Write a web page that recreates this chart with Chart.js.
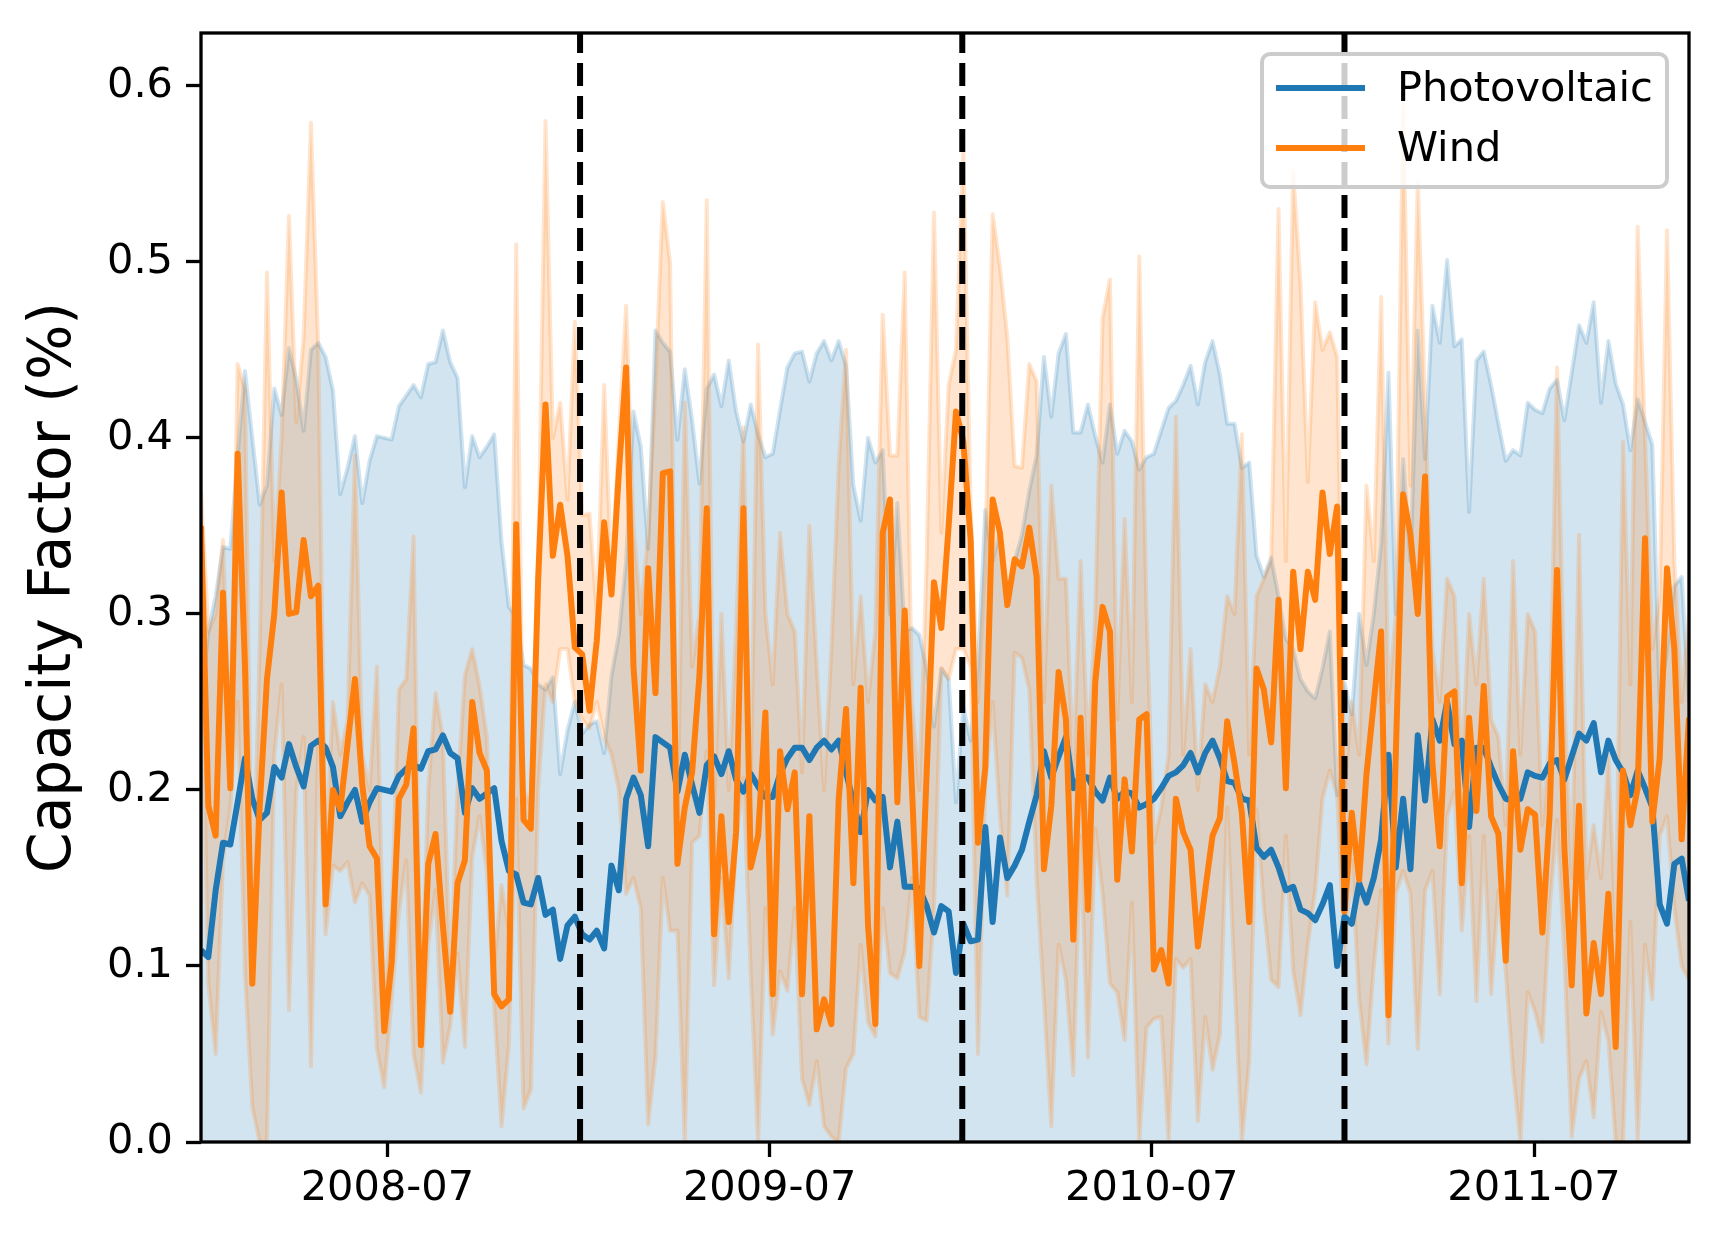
<!DOCTYPE html>
<html>
<head>
<meta charset="utf-8">
<script src="https://cdn.jsdelivr.net/npm/chart.js@4.4.0/dist/chart.umd.min.js"></script>
<style>
  html, body { margin: 0; padding: 0; background: #fff; }
  #wrap { width: 1722px; height: 1241px; }
  canvas { display: block; }
</style>
</head>
<body>
<div id="wrap"><canvas id="cfChart" width="1722" height="1241"></canvas></div>
<script>
// ── WEEKLY CAPACITY FACTOR: PV vs WIND ──
// mean lines plus min/max bands, one point per week

const START_DATE = '2008-01-05';          // first weekly sample
const X_TICKS    = ['2008-07', '2009-07', '2010-07', '2011-07'];
const YEAR_MARKS = ['2009-01-01', '2010-01-01', '2011-01-01'];
const Y_TICKS    = [0, 0.1, 0.2, 0.3, 0.4, 0.5, 0.6];

const pvMean = [
  .109,.105,.143,.170,.169,.193,.218,.195,.183,.187, .213,.207,.226,.213,.202,.225,.228,.224,.213,.185,
  .193,.200,.182,.193,.201,.200,.199,.208,.212,.214, .212,.222,.223,.231,.221,.218,.187,.201,.195,.198,
  .201,.171,.154,.152,.136,.135,.150,.129,.132,.104, .123,.128,.118,.115,.120,.110,.157,.143,.195,.207,
  .197,.168,.230,.227,.224,.199,.220,.203,.187,.214, .219,.209,.222,.206,.199,.209,.202,.196,.196,.209,
  .218,.224,.224,.217,.224,.228,.223,.228,.210,.193, .176,.200,.194,.196,.156,.182,.145,.145,.144,.134,
  .119,.134,.131,.096,.124,.114,.115,.179,.125,.173, .150,.157,.166,.182,.197,.222,.207,.219,.230,.201,
  .208,.207,.199,.194,.207,.195,.199,.198,.190,.192, .195,.201,.208,.210,.214,.221,.210,.221,.228,.218,
  .205,.204,.195,.194,.167,.162,.166,.156,.143,.145, .132,.130,.126,.135,.146,.100,.128,.124,.147,.136,
  .150,.172,.220,.156,.195,.155,.231,.194,.240,.228, .250,.226,.228,.179,.224,.224,.213,.203,.195,.194,
  .195,.210,.208,.207,.215,.217,.206,.219,.232,.228, .238,.210,.228,.217,.210,.197,.211,.201,.190,.135,
  .124,.158,.161,.137
];

const pvMax = [
  .250,.290,.310,.338,.337,.390,.438,.400,.362,.373, .428,.413,.451,.433,.404,.450,.454,.446,.427,.368,
  .383,.401,.363,.387,.401,.400,.399,.418,.424,.430, .423,.442,.443,.461,.443,.434,.372,.401,.389,.395,
  .402,.341,.304,.298,.271,.269,.260,.257,.264,.209, .234,.250,.232,.237,.239,.221,.265,.288,.330,.415,
  .395,.337,.461,.454,.449,.399,.439,.410,.374,.428, .436,.418,.444,.415,.398,.419,.402,.389,.391,.416,
  .440,.448,.449,.432,.448,.455,.444,.455,.441,.373, .353,.400,.386,.393,.300,.363,.290,.292,.288,.269,
  .236,.269,.263,.193,.247,.228,.270,.359,.330,.347, .309,.330,.345,.370,.390,.446,.412,.448,.459,.403,
  .403,.419,.401,.386,.419,.391,.404,.398,.382,.389, .391,.404,.417,.421,.430,.441,.419,.443,.455,.436,
  .408,.408,.383,.386,.333,.321,.332,.310,.286,.280, .263,.256,.252,.269,.290,.197,.261,.243,.300,.271,
  .300,.340,.437,.300,.388,.330,.461,.388,.475,.454, .501,.452,.456,.358,.444,.449,.430,.408,.387,.393,
  .390,.420,.416,.414,.428,.433,.410,.437,.464,.454, .477,.420,.455,.431,.419,.393,.422,.409,.396,.250,
  .280,.316,.321,.250
];

const windMean = [
  .350,.191,.174,.312,.201,.391,.270,.090,.190,.263, .300,.369,.300,.301,.342,.310,.316,.135,.200,.189,
  .226,.263,.203,.168,.161,.063,.102,.195,.203,.235, .055,.158,.175,.123,.074,.147,.160,.250,.221,.211,
  .084,.077,.081,.351,.183,.178,.320,.419,.333,.362, .333,.281,.277,.245,.285,.352,.311,.380,.440,.270,
  .211,.326,.255,.380,.381,.158,.190,.210,.265,.360, .118,.185,.125,.176,.360,.156,.174,.244,.084,.222,
  .189,.210,.084,.185,.064,.081,.067,.195,.246,.147, .258,.123,.067,.346,.365,.193,.302,.200,.100,.210,
  .318,.292,.350,.415,.398,.342,.170,.213,.365,.346, .305,.331,.327,.349,.321,.155,.191,.267,.240,.115,
  .241,.132,.261,.304,.290,.149,.206,.165,.240,.243, .098,.109,.090,.195,.176,.166,.111,.143,.174,.184,
  .239,.215,.187,.125,.269,.257,.227,.308,.201,.324, .280,.324,.308,.369,.334,.361,.131,.187,.149,.209,
  .250,.290,.072,.220,.368,.345,.300,.378,.215,.168, .253,.256,.147,.241,.188,.259,.185,.175,.103,.222,
  .166,.189,.186,.119,.187,.325,.167,.089,.191,.073, .113,.084,.141,.054,.211,.180,.201,.343,.182,.218,
  .326,.280,.172,.241
];

const windMax = [
  .370,.290,.300,.342,.220,.442,.427,.120,.280,.494, .330,.400,.526,.409,.457,.579,.450,.160,.250,.220,
  .240,.390,.220,.200,.270,.080,.130,.257,.263,.344, .070,.200,.255,.230,.090,.200,.265,.280,.259,.230,
  .100,.146,.120,.510,.200,.190,.330,.580,.400,.420, .365,.466,.356,.357,.300,.430,.320,.400,.475,.350,
  .300,.345,.430,.534,.499,.180,.420,.270,.300,.535, .190,.300,.200,.290,.406,.200,.453,.300,.260,.346,
  .300,.290,.210,.350,.270,.200,.280,.384,.450,.260, .310,.250,.290,.470,.390,.390,.494,.250,.200,.330,
  .528,.346,.430,.450,.563,.360,.250,.330,.527,.497, .457,.384,.383,.442,.432,.250,.373,.320,.320,.210,
  .330,.220,.300,.468,.490,.240,.354,.250,.503,.300, .170,.190,.220,.412,.220,.280,.200,.260,.250,.270,
  .310,.300,.402,.220,.310,.320,.330,.530,.330,.551, .487,.375,.477,.450,.460,.446,.200,.250,.220,.373,
  .330,.480,.250,.300,.590,.373,.545,.420,.280,.250, .320,.310,.210,.300,.260,.320,.240,.230,.180,.330,
  .220,.300,.290,.180,.230,.440,.250,.150,.345,.150, .180,.150,.220,.120,.398,.260,.520,.400,.280,.310,
  .518,.330,.250,.300
];

const windMin = [
  .300,.090,.050,.160,.190,.250,.096,.020,.000,.000, .220,.260,.075,.200,.230,.043,.228,.118,.157,.154,
  .159,.136,.147,.140,.053,.031,.080,.130,.160,.050, .028,.112,.143,.045,.066,.107,.054,.162,.185,.154,
  .077,.009,.055,.195,.019,.030,.200,.260,.250,.280, .280,.250,.240,.235,.250,.230,.220,.200,.141,.150,
  .133,.010,.048,.150,.120,.120,.000,.170,.174,.222, .089,.150,.093,.170,.207,.096,.000,.133,.061,.097,
  .086,.133,.036,.021,.046,.009,.003,.000,.042,.050, .112,.068,.060,.133,.096,.093,.108,.150,.071,.069,
  .133,.269,.263,.280,.280,.270,.050,.203,.250,.185, .140,.278,.275,.257,.150,.081,.009,.112,.092,.038,
  .174,.048,.178,.141,.090,.085,.058,.136,.000,.065, .070,.071,.000,.104,.099,.104,.012,.071,.041,.061,
  .190,.092,.000,.046,.189,.133,.092,.088,.174,.097, .072,.112,.143,.195,.211,.197,.106,.160,.081,.044,
  .100,.143,.056,.141,.154,.141,.053,.143,.154,.084, .185,.199,.120,.174,.080,.174,.084,.143,.097,.040,
  .000,.085,.074,.057,.133,.183,.106,.003,.036,.046, .014,.074,.057,.000,.000,.125,.000,.112,.081,.174,
  .185,.133,.100,.092
];

const BLUE   = '#1f77b4';
const ORANGE = '#ff7f0e';
const BLUE_BAND   = 'rgba(31,119,180,0.2)';
const ORANGE_BAND = 'rgba(255,127,14,0.2)';
const FONT = "'DejaVu Sans', 'Liberation Sans', sans-serif";
const TICK_PX = 41.5;

function parseDay(s) {
  const p = s.split('-').map(Number);
  return Date.UTC(p[0], p[1] - 1, p[2] || 1);
}
function fmtMonth(ms) {
  const d = new Date(ms);
  return d.getUTCFullYear() + '-' + String(d.getUTCMonth() + 1).padStart(2, '0');
}

const WEEK_MS = 7 * 864e5;
const t0 = parseDay(START_DATE);
const weeks = pvMean.map((_, i) => t0 + i * WEEK_MS);
const xy = arr => arr.map((v, i) => ({ x: weeks[i], y: v }));

// dashed year separators + axis frame
const yearLines = {
  id: 'yearLines',
  afterDatasetsDraw(chart) {
    const { ctx, chartArea: a, scales: { x } } = chart;
    ctx.save();
    ctx.strokeStyle = '#000';
    ctx.lineWidth = 6;
    ctx.setLineDash([23, 10]);
    YEAR_MARKS.forEach(d => {
      const px = x.getPixelForValue(parseDay(d));
      ctx.beginPath();
      ctx.moveTo(px, a.bottom);
      ctx.lineTo(px, a.top);
      ctx.stroke();
    });
    ctx.setLineDash([]);
    ctx.lineWidth = 3.3;
    ctx.strokeRect(a.left, a.top, a.right - a.left, a.bottom - a.top);
    ctx.restore();
  }
};

// matplotlib-style legend box inside the axes, upper right
const legendBox = {
  id: 'legendBox',
  afterDraw(chart) {
    const { ctx, chartArea: a } = chart;
    const w = 405, h = 133;
    const x0 = a.right - 22 - w, y0 = a.top + 21;
    ctx.save();
    ctx.beginPath();
    ctx.roundRect(x0, y0, w, h, 8);
    ctx.fillStyle = 'rgba(255,255,255,0.8)';
    ctx.fill();
    ctx.lineWidth = 4;
    ctx.strokeStyle = '#cccccc';
    ctx.stroke();
    const items = [['Photovoltaic', BLUE], ['Wind', ORANGE]];
    ctx.font = TICK_PX + 'px ' + FONT;
    ctx.textBaseline = 'middle';
    ctx.fillStyle = '#000';
    items.forEach(([label, col], k) => {
      const yy = y0 + 34 + k * 60;
      ctx.beginPath();
      ctx.moveTo(x0 + 14, yy);
      ctx.lineTo(x0 + 103, yy);
      ctx.strokeStyle = col;
      ctx.lineWidth = 6;
      ctx.stroke();
      ctx.fillText(label, x0 + 135, yy + 2);
    });
    ctx.restore();
  }
};

const line = (data, color, width, extra) => Object.assign({
  data, borderColor: color, borderWidth: width, pointRadius: 0,
  tension: 0, fill: false, borderJoinStyle: 'round'
}, extra || {});

new Chart(document.getElementById('cfChart'), {
  type: 'line',
  data: {
    datasets: [
      line(xy(windMean), ORANGE, 6),
      line(xy(pvMean), BLUE, 6),
      line(xy(windMax), ORANGE_BAND, 4, { fill: '+1', backgroundColor: ORANGE_BAND }),
      line(xy(windMin), ORANGE_BAND, 4),
      line(xy(pvMax), BLUE_BAND, 4, { fill: 'origin', backgroundColor: BLUE_BAND })
    ]
  },
  options: {
    responsive: false,
    devicePixelRatio: 1,
    animation: false,
    layout: { padding: { left: 0, top: 33, right: 33, bottom: 0 } },
    plugins: { legend: { display: false }, tooltip: { enabled: false } },
    scales: {
      x: {
        type: 'linear',
        min: weeks[0], max: weeks[weeks.length - 1],
        afterBuildTicks: s => { s.ticks = X_TICKS.map(t => ({ value: parseDay(t) })); },
        afterFit: s => { s.height = 99; s.paddingLeft = 0; s.paddingRight = 0; },
        ticks: {
          callback: v => fmtMonth(v),
          font: { family: FONT, size: TICK_PX }, color: '#000',
          padding: 7, maxRotation: 0, autoSkip: false
        },
        grid: { drawOnChartArea: false, tickLength: 15, tickWidth: 3.3, tickColor: '#000' },
        border: { display: false }
      },
      y: {
        min: 0, max: 0.63,
        afterBuildTicks: s => { s.ticks = Y_TICKS.map(v => ({ value: v })); },
        afterFit: s => { s.width = 201; s.paddingTop = 0; s.paddingBottom = 0; },
        ticks: {
          callback: v => v.toFixed(1),
          font: { family: FONT, size: TICK_PX }, color: '#000', padding: 13
        },
        grid: { drawOnChartArea: false, tickLength: 15, tickWidth: 3.3, tickColor: '#000' },
        border: { display: false },
        title: {
          display: true, text: 'Capacity Factor (%)', color: '#000',
          font: { family: FONT, size: 58.3 }, padding: { top: 20, bottom: 0 }
        }
      }
    }
  },
  plugins: [yearLines, legendBox]
});
</script>
</body>
</html>
